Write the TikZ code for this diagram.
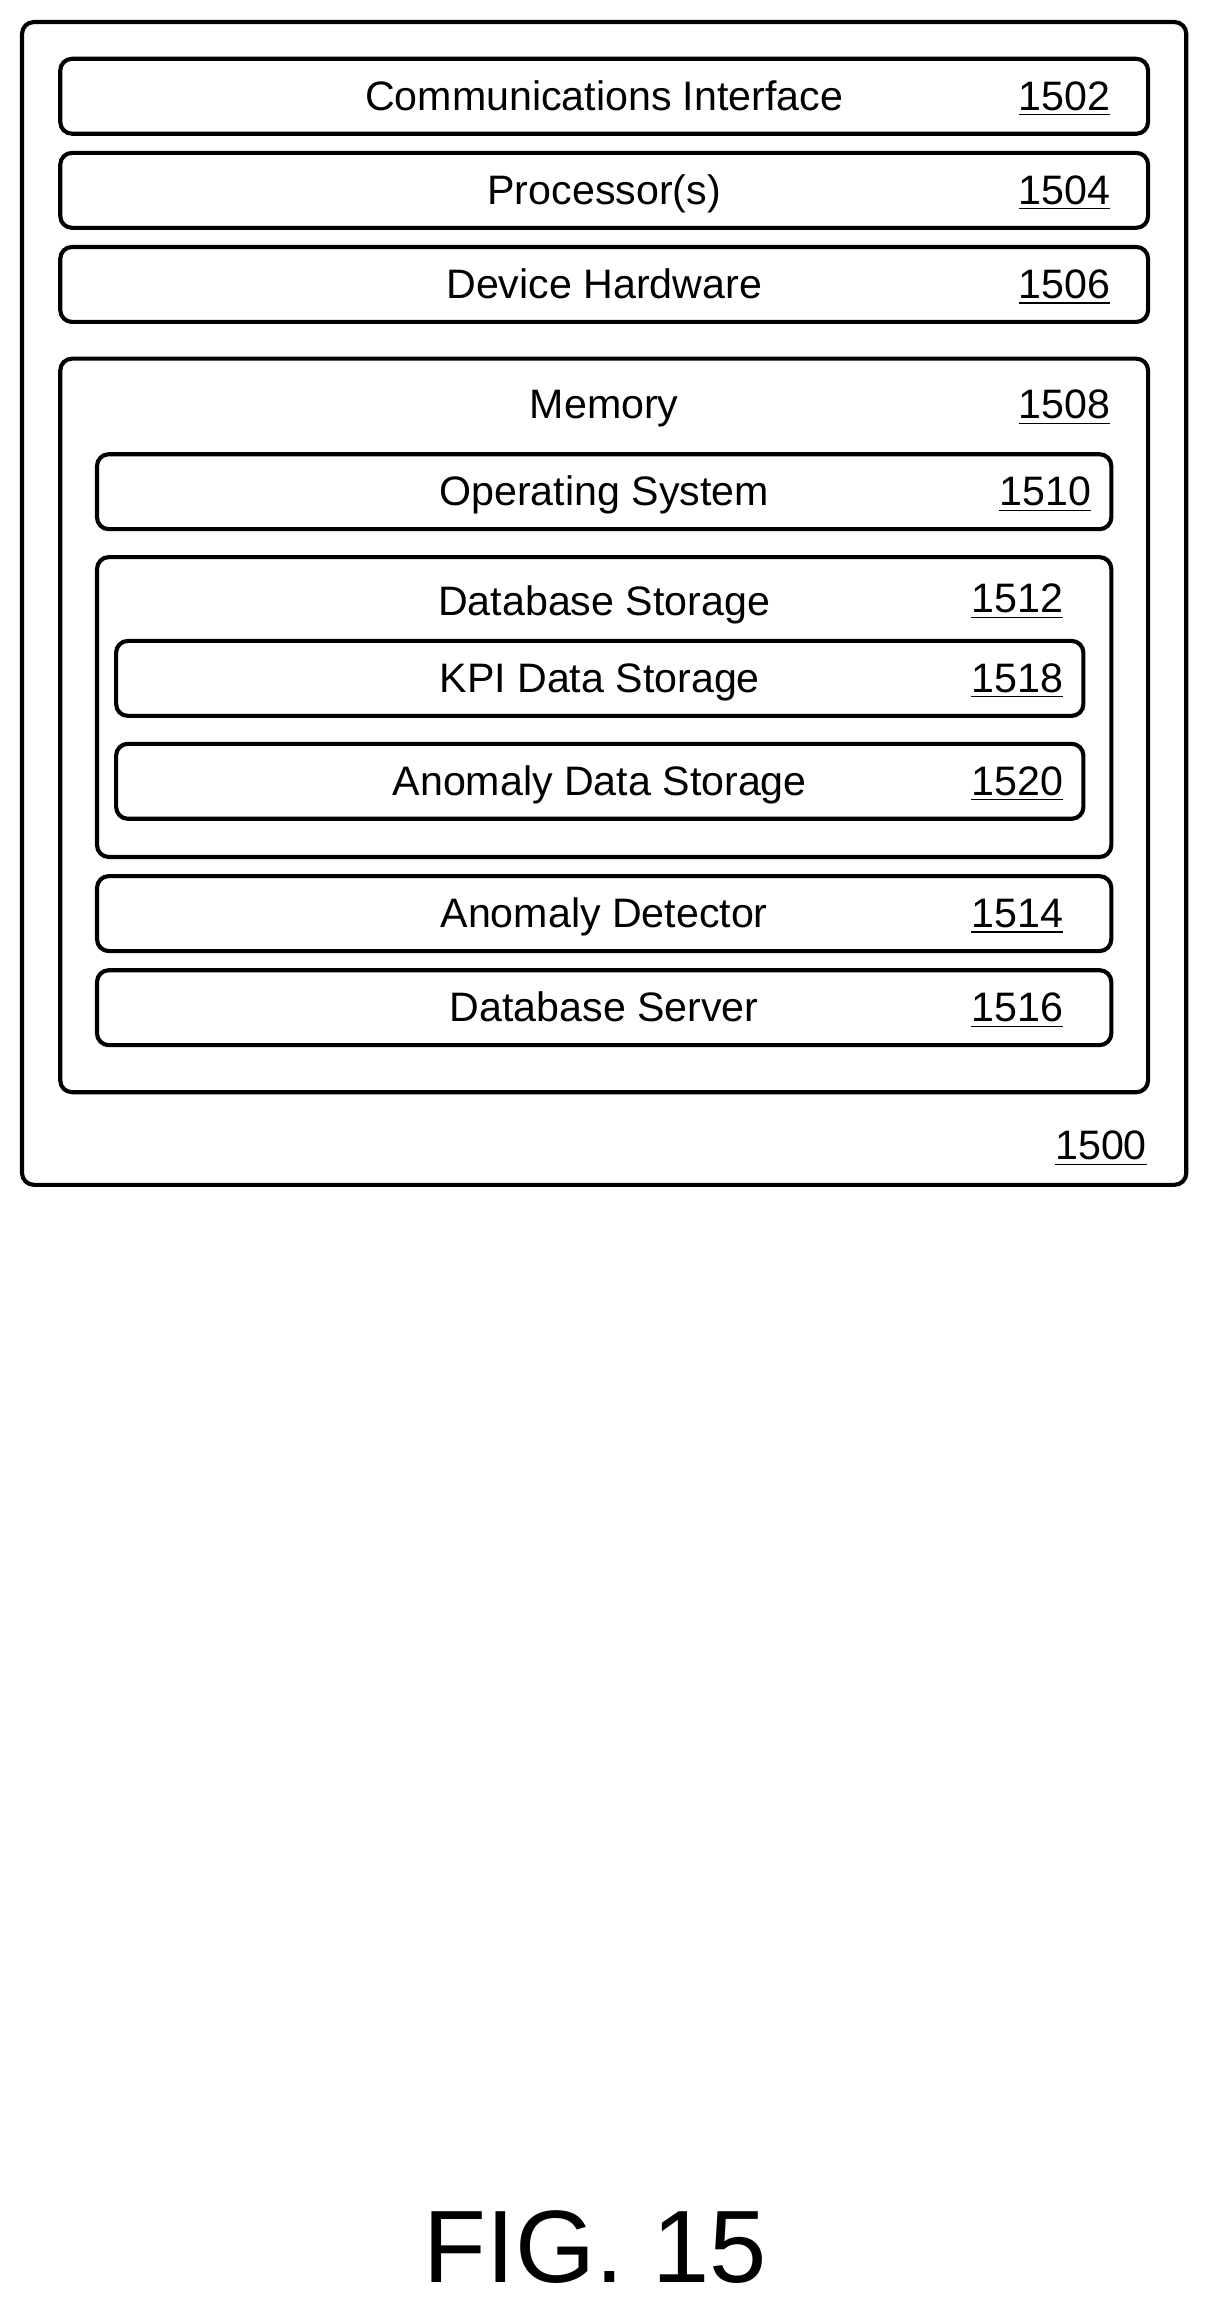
\documentclass[tikz,border=0pt]{standalone}
\usepackage{fontspec}
\setmainfont{Liberation Sans}
\begin{document}
\begin{tikzpicture}[x=0.5pt,y=-0.5pt,
  box/.style={draw,line width=1.4pt,rounded corners=4pt},
  lbl/.style={font=\fontsize{14}{16}\selectfont,inner sep=0pt,anchor=base},
  num/.style={font=\fontsize{14}{16}\selectfont,inner sep=0pt,anchor=base}]
\useasboundingbox (0,0) rectangle (822,1566);
\draw[box] (15,15) rectangle (807,806);
\node[num] (n1500) at (749,789) {\underline{1500}};
% top boxes
\draw[box] (41,40) rectangle (781,91);
\node[lbl] (t1502) at (411,75) {Communications Interface};
\node[num] (n1502) at (724,75) {\underline{1502}};
\draw[box] (41,104) rectangle (781,155);
\node[lbl] (t1504) at (411,139) {Processor(s)};
\node[num] (n1504) at (724,139) {\underline{1504}};
\draw[box] (41,168) rectangle (781,219);
\node[lbl] (t1506) at (411,203) {Device Hardware};
\node[num] (n1506) at (724,203) {\underline{1506}};
% memory
\draw[box] (41,244) rectangle (781,743);
\node[lbl] (t1508) at (411,285) {Memory};
\node[num] (n1508) at (724,285) {\underline{1508}};
\draw[box] (66,309) rectangle (756,360);
\node[lbl] (t1510) at (411,344) {Operating System};
\node[num] (n1510) at (711,344) {\underline{1510}};
\draw[box] (66,379) rectangle (756,583);
\node[lbl] (t1512) at (411,419) {Database Storage};
\node[num] (n1512) at (692,417) {\underline{1512}};
\draw[box] (79,436) rectangle (737,487);
\node[lbl] (t1518) at (408,471) {KPI Data Storage};
\node[num] (n1518) at (692,471) {\underline{1518}};
\draw[box] (79,506) rectangle (737,557);
\node[lbl] (t1520) at (408,541) {Anomaly Data Storage};
\node[num] (n1520) at (692,541) {\underline{1520}};
\draw[box] (66,596) rectangle (756,647);
\node[lbl] (t1514) at (411,631) {Anomaly Detector};
\node[num] (n1514) at (692,631) {\underline{1514}};
\draw[box] (66,660) rectangle (756,711);
\node[lbl] (t1516) at (411,695) {Database Server};
\node[num] (n1516) at (692,695) {\underline{1516}};
\node[inner sep=0pt,anchor=base,font=\fontsize{35}{40}\selectfont] (fig) at (405,1553) {FIG. 15};
\end{tikzpicture}
\end{document}
